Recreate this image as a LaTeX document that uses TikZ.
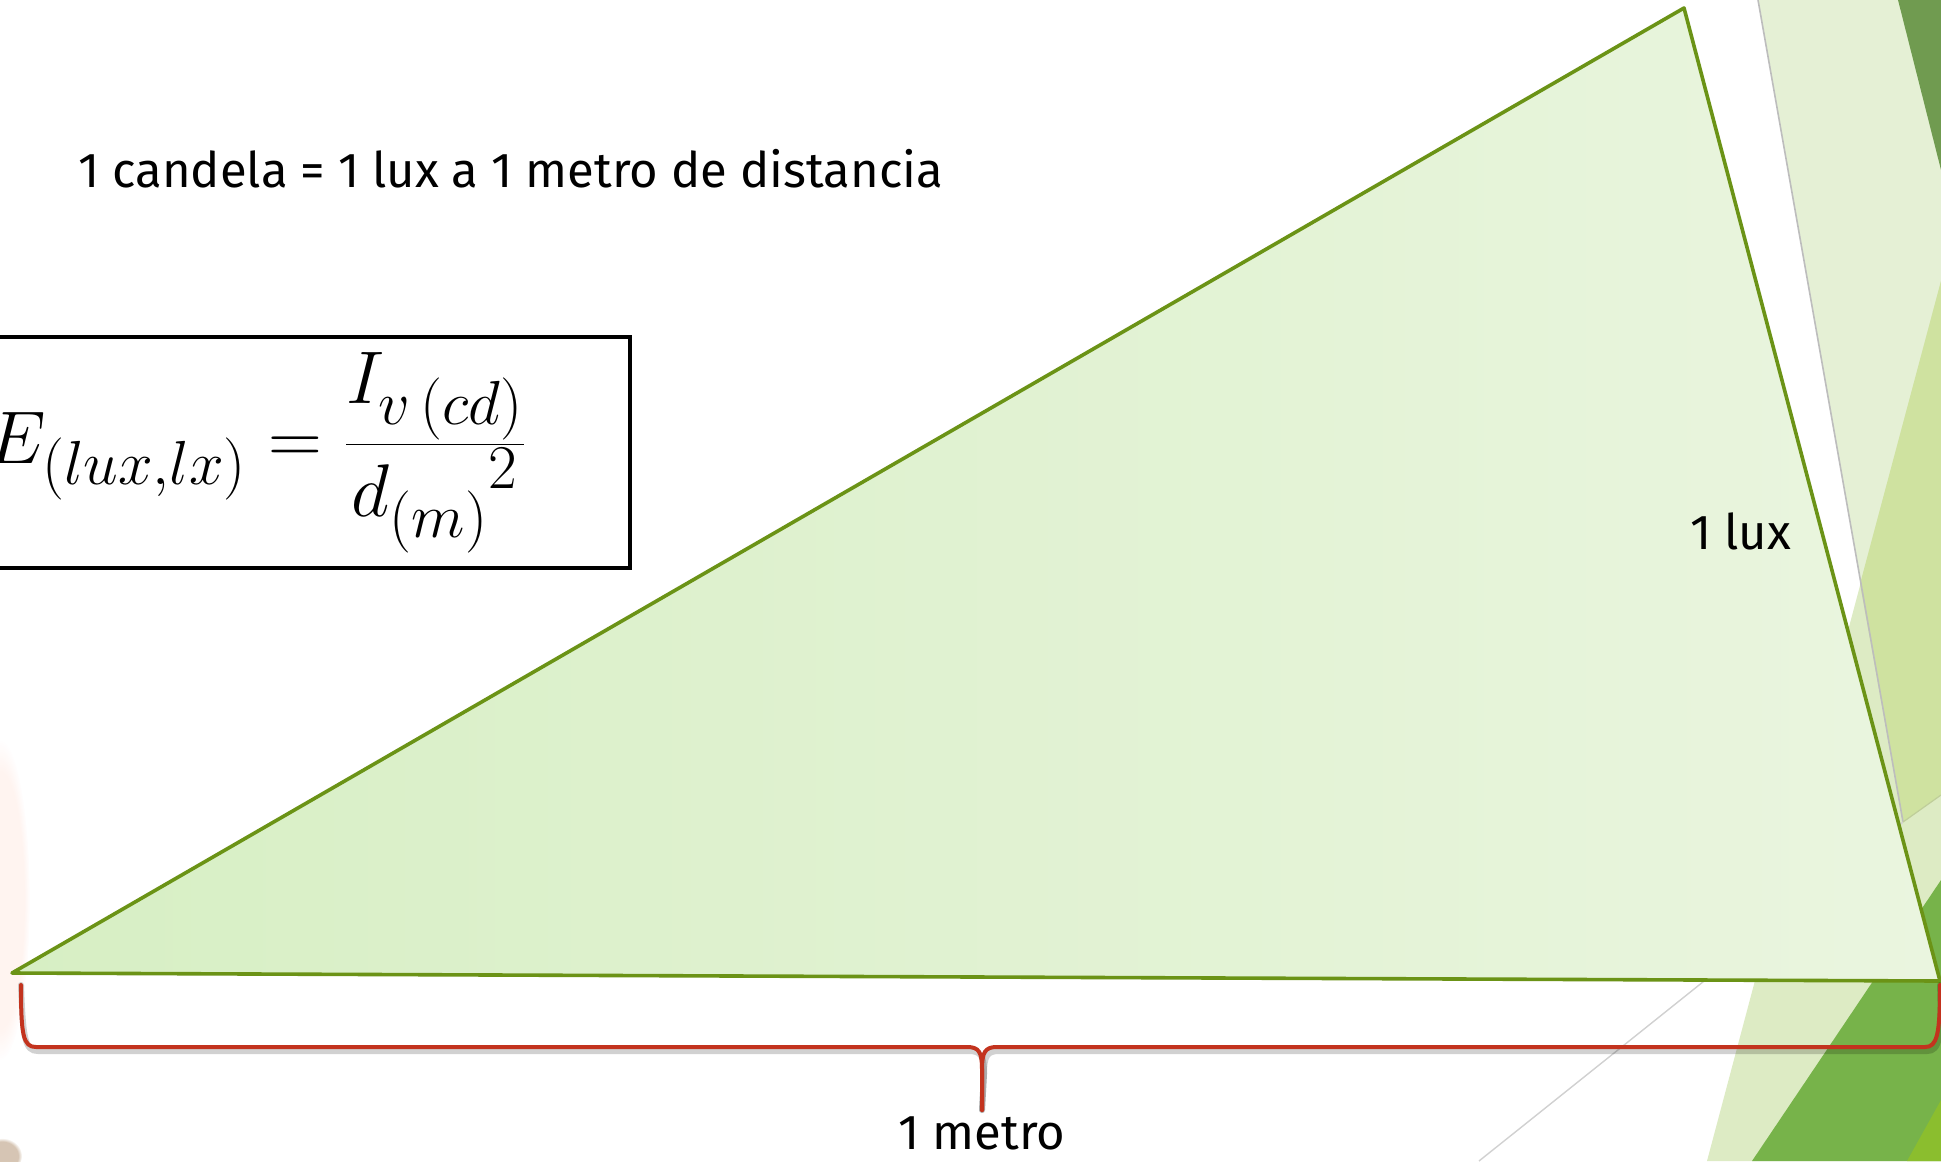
\documentclass[tikz,border=0pt]{standalone}
\usepackage{fontspec}
\setmainfont{Fira Sans}
\usetikzlibrary{fadings}
\definecolor{trifill}{HTML}{EAF5DF}
\definecolor{trifillL}{HTML}{D7EFC4}
\definecolor{tristroke}{HTML}{6B9316}
\definecolor{bracered}{HTML}{C3331E}
\definecolor{paleA}{HTML}{E5F0D5}
\definecolor{paleB}{HTML}{DDEBC4}
\definecolor{paleAB}{HTML}{CFE2A0}
\definecolor{darkgr}{HTML}{709B50}
\definecolor{midgr}{HTML}{77B34A}
\definecolor{yelgr}{HTML}{8BBE2E}
\definecolor{edgegray}{HTML}{BDBDBD}
\tikzset{
  lbl/.style={font=\fontsize{24.5}{29}\selectfont, inner sep=0pt, text=black},
  bracepath/.style={draw=bracered, line width=2pt, line cap=round, line join=round},
  braceshadow/.style={draw=black, opacity=0.18, line width=3pt, line cap=round},
  tri/.style={draw=tristroke, line width=1.8pt, line join=round, left color=trifillL, right color=trifill},
}
\begin{document}
\begin{tikzpicture}[x=0.5pt,y=-0.5pt]
\useasboundingbox (0,0) rectangle (1941,1161);
\clip (0,0) rectangle (1941,1161);
\fill[white] (0,0) rectangle (1941,1161);
% background facets
\fill[paleA] (1758,0) -- (1941,0) -- (1941,795) -- (1903,822) -- cycle;
\fill[paleB] (1941,281) -- (1941,1161) -- (1707,1161) -- cycle;
\fill[paleAB] (1941,281) -- (1860,584) -- (1903,822) -- (1941,795) -- cycle;
\draw[edgegray, line width=0.8pt] (1758,0) -- (1903,822);
\draw[edgegray!70, line width=0.7pt] (1903,822) -- (1479,1161);
\draw[paleAB!80!gray, line width=0.6pt] (1903,822) -- (1941,795);
\fill[darkgr] (1898,0) -- (1941,0) -- (1941,170) -- cycle;
\fill[midgr] (1752,1161) -- (1941,880) -- (1941,1161) -- cycle;
\fill[yelgr] (1907,1161) -- (1941,1100) -- (1941,1161) -- cycle;
% faint blur on the left edge
\fill[orange!60!red, opacity=0.06, path fading=circle with fuzzy edge 20 percent] (0,900) ellipse (30 and 160);
\fill[brown!60!gray, opacity=0.45, path fading=circle with fuzzy edge 20 percent] (2,1156) ellipse (20 and 18);
% triangle
\coordinate (A) at (12,973);
\coordinate (B) at (1684,8);
\coordinate (C) at (1940,981);
\path[tri] (A) -- (B) -- (C) -- cycle;
% brace
\coordinate (bl) at (21,985);
\coordinate (bm) at (982,1110);
\coordinate (br) at (1940,985);
\path[braceshadow, xshift=1pt, yshift=-2pt]
  (bl) .. controls (21,1035) and (23,1047) .. (36,1047) -- (967,1047)
  .. controls (979,1047) and (982,1052) .. (982,1070) -- (bm);
\path[braceshadow, xshift=1pt, yshift=-2pt]
  (bm) -- (982,1070) .. controls (982,1052) and (985,1047) .. (997,1047) -- (1925,1047)
  .. controls (1937,1047) and (1940,1035) .. (br);
\path[bracepath]
  (bl) .. controls (21,1035) and (23,1047) .. (36,1047) -- (967,1047)
  .. controls (979,1047) and (982,1052) .. (982,1070) -- (bm);
\path[bracepath]
  (bm) -- (982,1070) .. controls (982,1052) and (985,1047) .. (997,1047) -- (1925,1047)
  .. controls (1937,1047) and (1940,1035) .. (br);
% texts
\node[lbl, anchor=base west] (title) at (78,187) {1 candela = 1 lux a 1 metro de distancia};
\node[lbl, anchor=base west] (lux) at (1690,549) {1 lux};
\node[lbl, anchor=base] (metro) at (982,1149) {1 metro};
% formula box
\draw[black, line width=1.6pt] (-10,337) rectangle (630,568);
\node[anchor=east, inner sep=0pt] (formula) at (528,453)
  {\scalebox{1.5}{\fontsize{24.88}{30}\selectfont $\displaystyle E_{(lux,lx)} = \frac{I_{v\,(cd)}}{{d_{(m)}}^{2}}$}};
\end{tikzpicture}
\end{document}
